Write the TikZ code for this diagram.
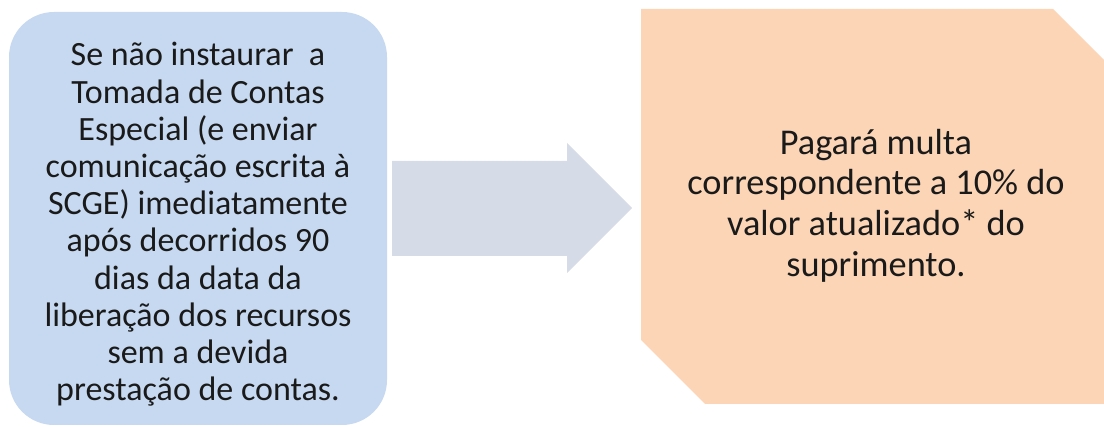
\documentclass[tikz,border=0pt]{standalone}
\usepackage{fontspec}
\setmainfont{Carlito}
\definecolor{boxblue}{HTML}{C6D9F0}
\definecolor{arrowgray}{HTML}{D5DCE8}
\definecolor{boxpeach}{HTML}{FBD5B5}
\definecolor{txt}{HTML}{1A1A1A}
\tikzset{
  leftbox/.style={rectangle, rounded corners=45pt, fill=boxblue, draw=none,
    minimum width=378pt, minimum height=413pt, inner sep=0pt},
  lefttext/.style={align=center, text=txt, font=\fontsize{34}{37.2}\selectfont},
  righttext/.style={align=center, text=txt, font=\fontsize{36.3}{40.7}\selectfont},
}
\begin{document}
\begin{tikzpicture}[x=1pt,y=-1pt]
\useasboundingbox (0,0) rectangle (1104,427);
\clip (0,0) rectangle (1104,427);
% left box
\node[leftbox] (lb) at (198,218.5) {};
\node[lefttext] (lt) at (198,224.5) {Se não instaurar~ a\\Tomada de Contas\\Especial (e enviar\\comunicação escrita à\\SCGE) imediatamente\\após decorridos 90\\dias da data da\\liberação dos recursos\\sem a devida\\prestação de contas.};
% block arrow
\fill[arrowgray] (392,161) -- (567,161) -- (567,143) -- (632,208) -- (567,273) -- (567,256) -- (392,256) -- cycle;
% right snipped box
\coordinate (rtl) at (641,9);
\fill[boxpeach] (rtl) -- (1053,9) -- (1108,64) -- (1108,404) -- (705,404) -- (641,340) -- cycle;
\node[righttext] (rt) at (876,205.5) {Pagará multa\\correspondente a 10\% do\\valor atualizado* do\\suprimento.};
\end{tikzpicture}
\end{document}
